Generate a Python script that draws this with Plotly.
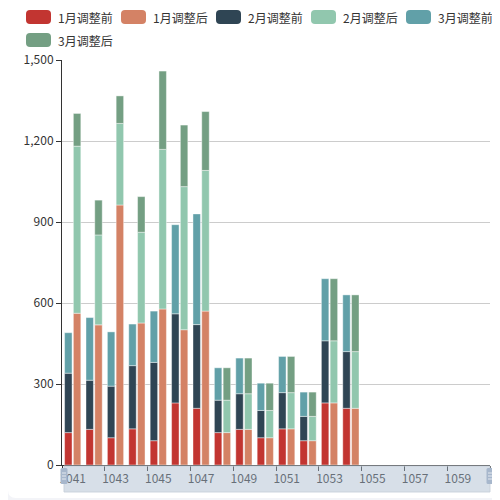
import numpy as np
import plotly.graph_objects as go

# ---------------- data ----------------
categories = ["1041", "1042", "1043", "1044", "1045", "1046", "1047", "1048", "1049", "1050",
              "1051", "1052", "1053", "1054", "1055", "1056", "1057", "1058", "1059", "1060"]
data_categories = categories[:14]

jan_before = [120, 132, 101, 134, 90, 230, 210, 120, 132, 101, 134, 90, 230, 210]
feb_before = [220, 182, 191, 234, 290, 330, 310, 120, 132, 101, 134, 90, 230, 210]
mar_before = [150, 232, 201, 154, 190, 330, 410, 120, 132, 101, 134, 90, 230, 210]
jan_after = [562, 519, 963, 526, 578, 501, 570, 120, 132, 101, 134, 90, 230, 210]
feb_after = [619, 333, 302, 336, 591, 530, 521, 120, 132, 101, 134, 90, 230, 210]
mar_after = [121, 129, 102, 132, 290, 228, 218, 120, 132, 101, 134, 90, 230, 210]

series_names = ["1月调整前", "1月调整后", "2月调整前", "2月调整后", "3月调整前", "3月调整后"]
series_colors = ["#c23531", "#d48265", "#2f4554", "#91c7ae", "#61a0a8", "#749f83"]
y_ticks = [0, 300, 600, 900, 1200, 1500]

# ---------------- layout geometry ----------------
# the page puts the figure 8px from the window's top-left corner
OFF = 8
W, H = 492, 492
ML, MR, MT, MB = 54, 10, 52, 35
PW = W - ML - MR
PH = H - MT - MB
FONT = "Noto Sans CJK SC, Noto Sans, sans-serif"


def px(x):  # window pixel -> paper x
    return (x - OFF - ML) / PW


def py(y):  # window pixel -> paper y
    return (H - MB - (y - OFF)) / PH


def rrect(x0, y0, x1, y1, r):
    rx = r / PW
    ry = r / PH
    X0, X1 = px(x0), px(x1)
    Y0, Y1 = py(y0), py(y1)
    return (f"M{X0 + rx},{Y0} L{X1 - rx},{Y0} Q{X1},{Y0} {X1},{Y0 - ry} "
            f"L{X1},{Y1 + ry} Q{X1},{Y1} {X1 - rx},{Y1} L{X0 + rx},{Y1} "
            f"Q{X0},{Y1} {X0},{Y1 + ry} L{X0},{Y0 - ry} Q{X0},{Y0} {X0 + rx},{Y0} Z")


fig = go.Figure()

stacks = {
    "before": [("1月调整前", jan_before, "#c23531"), ("2月调整前", feb_before, "#2f4554"),
               ("3月调整前", mar_before, "#61a0a8")],
    "after": [("1月调整后", jan_after, "#d48265"), ("2月调整后", feb_after, "#91c7ae"),
              ("3月调整后", mar_after, "#749f83")],
}
for group, items in stacks.items():
    base = np.zeros(len(data_categories))
    for name, vals, col in items:
        v = np.array(vals, dtype=float)
        fig.add_trace(go.Bar(
            x=data_categories, y=v, base=base.copy(), name=name,
            offsetgroup=group,
            marker=dict(color=col, line=dict(width=0.6, color="rgba(255,255,255,0.7)")),
            showlegend=False, hoverinfo="skip"))
        base = base + v

shapes = []
annotations = []
# white card with rounded bottom-left corner
shapes.append(dict(type="path", xref="paper", yref="paper", layer="below",
                   path=rrect(8, -20, 530, 498, 8), fillcolor="white", line=dict(width=0)))

# legend (custom, 5 per row)
for i, (nm, col) in enumerate(zip(series_names, series_colors)):
    row, colidx = divmod(i, 5)
    x0 = 26 + 95 * colidx
    cy = 17 + 23 * row
    shapes.append(dict(type="path", xref="paper", yref="paper", layer="above",
                       path=rrect(x0, cy - 7, x0 + 25, cy + 7, 4), fillcolor=col, line=dict(width=0)))
    annotations.append(dict(text=nm, x=px(x0 + 30), y=py(cy), xref="paper", yref="paper",
                            xanchor="left", yanchor="middle", showarrow=False,
                            font=dict(size=12, color="#333", family=FONT)))

# dataZoom slider
shapes.append(dict(type="rect", xref="paper", yref="paper", layer="above",
                   x0=px(64), x1=px(490), y0=py(466), y1=py(492),
                   fillcolor="rgba(167,183,204,0.45)", line=dict(width=1, color="rgba(200,208,218,0.9)")))
for hx in (64, 490):
    shapes.append(dict(type="path", xref="paper", yref="paper", layer="above",
                       path=rrect(hx - 3.5, 468, hx + 3.5, 484, 1.5),
                       fillcolor="#a7b7cc", line=dict(width=0)))
    for ly in (473, 476, 479):
        shapes.append(dict(type="line", xref="paper", yref="paper", layer="above",
                           x0=px(hx - 2), x1=px(hx + 2), y0=py(ly), y1=py(ly),
                           line=dict(width=1, color="rgba(255,255,255,0.7)")))

fig.update_layout(
    width=W, height=H,
    margin=dict(l=ML, r=MR, t=MT, b=MB),
    paper_bgcolor="#f3f4f8", plot_bgcolor="rgba(0,0,0,0)",
    barmode="group", bargap=0.18, bargroupgap=0.15,
    font=dict(family=FONT, size=12, color="#333"),
    showlegend=False,
    shapes=shapes, annotations=annotations,
    xaxis=dict(type="category", categoryorder="array", categoryarray=categories,
               range=[-0.5, len(categories) - 0.5],
               tickmode="array", tickvals=categories[::2], ticktext=categories[::2],
               ticks="outside", ticklen=3, tickcolor="rgba(0,0,0,0)",
               showline=True, linecolor="#333", linewidth=1, showgrid=False,
               tickfont=dict(size=12, color="#333", family=FONT)),
    xaxis2=dict(overlaying="x", anchor="y", side="bottom",
                range=[-0.5, len(categories) - 0.5],
                tickmode="array", tickvals=[i - 0.5 for i in range(0, len(categories) + 1, 2)],
                showticklabels=False, ticks="outside", ticklen=5, tickcolor="#333",
                showgrid=False, showline=False, zeroline=False),
    yaxis=dict(range=[0, 1500], tickmode="array", tickvals=y_ticks, tickformat=",",
               ticks="outside", ticklen=5, tickcolor="#333",
               showline=True, linecolor="#333", linewidth=1,
               showgrid=True, gridcolor="#ccc", gridwidth=1, zeroline=False,
               tickfont=dict(size=12, color="#333", family=FONT)),
)
fig.add_trace(go.Scatter(x=[], y=[], xaxis="x2", yaxis="y", showlegend=False, hoverinfo="skip"))

fig.write_html("out.html")
